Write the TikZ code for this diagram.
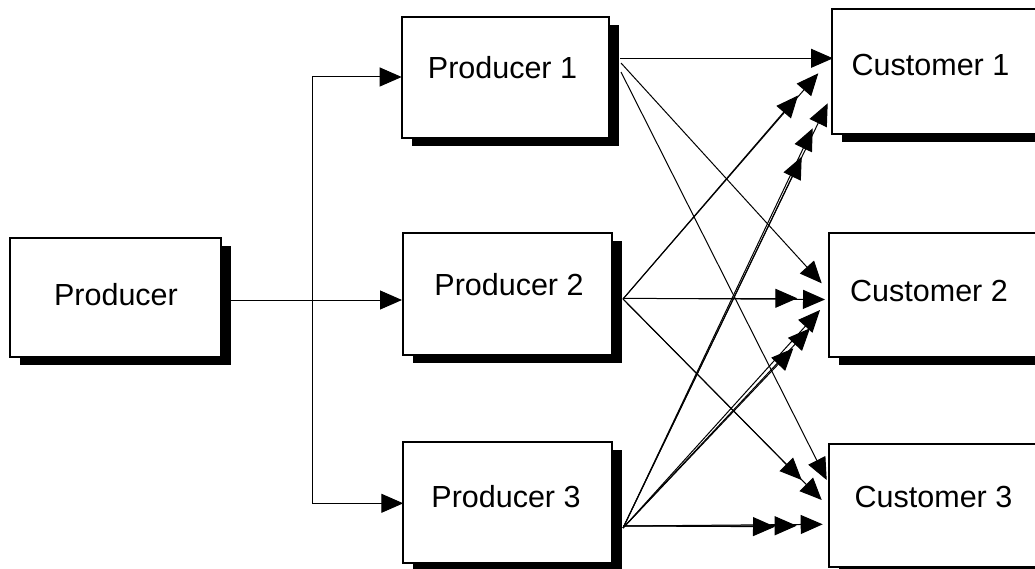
\documentclass[tikz,border=0pt]{standalone}
\usepackage{fontspec}
\setmainfont{Liberation Sans}
\usetikzlibrary{arrows.meta,shadows}
\begin{document}
\begin{tikzpicture}[x=1pt,y=-1pt,
  box/.style={draw=black, line width=2pt, fill=white, inner sep=0pt,
    drop shadow={shadow xshift=10pt, shadow yshift=-8pt, fill=black, opacity=1}},
  lbl/.style={inner sep=0pt, anchor=center, font=\fontsize{30.5pt}{36pt}\selectfont},
  conn/.style={line width=1pt, -{Triangle[length=22pt,width=19pt]}},
  link/.style={line width=1pt},
  both/.style={line width=1pt, {Triangle[length=22pt,width=19pt]}-{Triangle[length=22pt,width=19pt]}}]
\useasboundingbox (0,0) rectangle (1035,569);
\clip (0,0) rectangle (1035,569);
% boxes
\node[box, minimum width=211pt, minimum height=119pt] (p0) at (115.5,297.5) {};
\node[box, minimum width=207.3pt, minimum height=121.3pt] (p1) at (505.3,77.3) {};
\node[box, minimum width=208.4pt, minimum height=122.3pt] (p2) at (507.5,293.9) {};
\node[box, minimum width=208.4pt, minimum height=121.6pt] (p3) at (507.5,502.5) {};
\node[box, minimum width=215pt, minimum height=124.7pt] (c1) at (939.2,71.7) {};
\node[box, minimum width=215pt, minimum height=124pt] (c2) at (936.5,295) {};
\node[box, minimum width=215pt, minimum height=123pt] (c3) at (936.5,505.5) {};
% labels
\node[lbl] (t0) at (116,295) {Producer};
\node[lbl] (t1) at (502.5,68) {Producer 1};
\node[lbl] (t2) at (509,285) {Producer 2};
\node[lbl] (t3) at (506,497) {Producer 3};
\node[lbl] (u1) at (930.5,65) {Customer 1};
\node[lbl] (u2) at (929,291) {Customer 2};
\node[lbl] (u3) at (933.5,497) {Customer 3};
% distribution from Producer
\coordinate (p0o) at (221,300);
\coordinate (p2in) at (402,300);
\coordinate (p1in) at (401.7,77);
\coordinate (p3in) at (403.3,503.3);
\coordinate (j1) at (312.7,77);
\coordinate (j3) at (312.7,503.3);
\draw[conn] (p0o) -- (p2in);
\draw[both] (p1in) -- (j1) -- (j3) -- (p3in);
% origins
\coordinate (p1h) at (620,58.3);
\coordinate (p1a) at (621,63);
\coordinate (p1b) at (621,72);
\coordinate (p2x) at (623,299);
\coordinate (p2h) at (623,298.3);
\coordinate (p3x) at (623,528);
\coordinate (p3h) at (623,526);
% tips at Customer 1
\coordinate (c1h) at (833,58.3);
\coordinate (c1a) at (818.3,73.3);
\coordinate (c1b) at (798,95.5);
\coordinate (c1c) at (827.7,103.3);
\coordinate (c1d) at (812.7,128.3);
\coordinate (c1e) at (801.7,156.7);
% tips at Customer 2
\coordinate (c2a) at (821.7,283.3);
\coordinate (c2h) at (797.3,298.3);
\coordinate (c2i) at (825,299.5);
\coordinate (c2c) at (820,310);
\coordinate (c2d) at (810,328.3);
\coordinate (c2e) at (793.3,348.3);
% tips at Customer 3
\coordinate (c3a) at (826.7,480);
\coordinate (c3b) at (801.7,480);
\coordinate (c3c) at (821.7,500);
\coordinate (c3h) at (775,526.7);
\coordinate (c3i) at (796.7,525.7);
\coordinate (c3j) at (822.7,524.3);
% Producer 1
\draw[conn] (p1h) -- (c1h);
\draw[conn] (p1a) -- (c2a);
\draw[conn] (p1b) -- (c3a);
% Producer 2
\draw[conn] (p2x) -- (c1a);
\draw[conn] (p2x) -- (c1b);
\draw[conn] (p2h) -- (c2h);
\draw[conn] (p2h) -- (c2i);
\draw[conn] (p2x) -- (c3b);
\draw[conn] (p2x) -- (c3c);
% Producer 3
\draw[conn] (p3x) -- (c1c);
\draw[conn] (p3x) -- (c1d);
\draw[conn] (p3x) -- (c1e);
\draw[conn] (p3x) -- (c2c);
\draw[conn] (p3x) -- (c2d);
\draw[conn] (p3x) -- (c2e);
\draw[conn] (p3h) -- (c3h);
\draw[conn] (p3h) -- (c3i);
\draw[conn] (p3h) -- (c3j);
\end{tikzpicture}
\end{document}
